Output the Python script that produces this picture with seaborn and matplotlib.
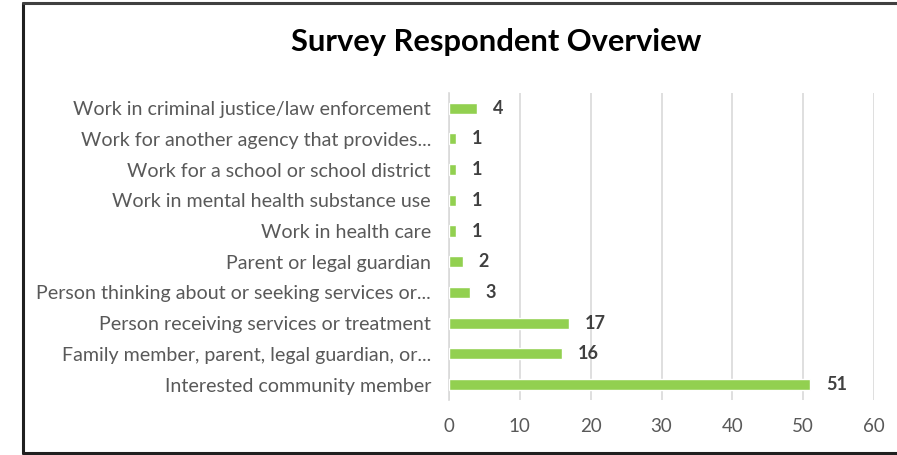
import matplotlib
matplotlib.use("Agg")
import matplotlib.pyplot as plt
import seaborn as sns
import pandas as pd
from matplotlib.lines import Line2D

categories = [
    "Work in criminal justice/law enforcement",
    "Work for another agency that provides...",
    "Work for a school or school district",
    "Work in mental health substance use",
    "Work in health care",
    "Parent or legal guardian",
    "Person thinking about or seeking services or...",
    "Person receiving services or treatment",
    "Family member, parent, legal guardian, or...",
    "Interested community member",
]
values = [4, 1, 1, 1, 1, 2, 3, 17, 16, 51]
xticks = [0, 10, 20, 30, 40, 50, 60]

sns.set_theme(style="white")
plt.rcParams['font.family'] = ['Lato', 'DejaVu Sans']

df = pd.DataFrame({"category": categories, "value": values})

fig = plt.figure(figsize=(8.97, 4.55), dpi=100)
ax = fig.add_axes([0.5006, 0.121, 0.4738, 0.675])

sns.barplot(data=df, x="value", y="category", orient="h", color="#92D050",
            saturation=1, width=0.36, ax=ax, zorder=3)

ax.set_xlim(0, 60)
ax.set_xticks(xticks)
ax.set_xticklabels([str(t) for t in xticks], fontsize=13.5, color="#595959")
ax.tick_params(axis='x', length=0, pad=13)
ax.tick_params(axis='y', length=0, pad=13, labelsize=14.1, labelcolor="#595959")
ax.set_xlabel("")
ax.set_ylabel("")
ax.set_ylim(len(categories) - 0.5, -0.5)
ax.grid(axis='x', color="#D9D9D9", linewidth=1.2, zorder=0)
for s in ["top", "right", "bottom"]:
    ax.spines[s].set_visible(False)
ax.spines["left"].set_color("#D9D9D9")
ax.spines["left"].set_linewidth(1.2)

for i, v in enumerate(values):
    ax.text(v + 2.2, i, str(v), va="center", ha="left", fontsize=13,
            color="#404040", fontweight="bold")

fig.text(0.553, 0.908, "Survey Respondent Overview", ha="center", va="center",
         fontsize=22.2, fontweight="bold", color="#000000")

# chart border (left, top, bottom)
fig.add_artist(Line2D([0.026, 0.026], [0.005, 0.993], transform=fig.transFigure,
                      color="#202020", linewidth=2.2))
fig.add_artist(Line2D([0.026, 1.0], [0.993, 0.993], transform=fig.transFigure,
                      color="#404040", linewidth=2.2))
fig.add_artist(Line2D([0.026, 1.0], [0.005, 0.005], transform=fig.transFigure,
                      color="#202020", linewidth=2.2))

fig.savefig("out.png", dpi=100)
